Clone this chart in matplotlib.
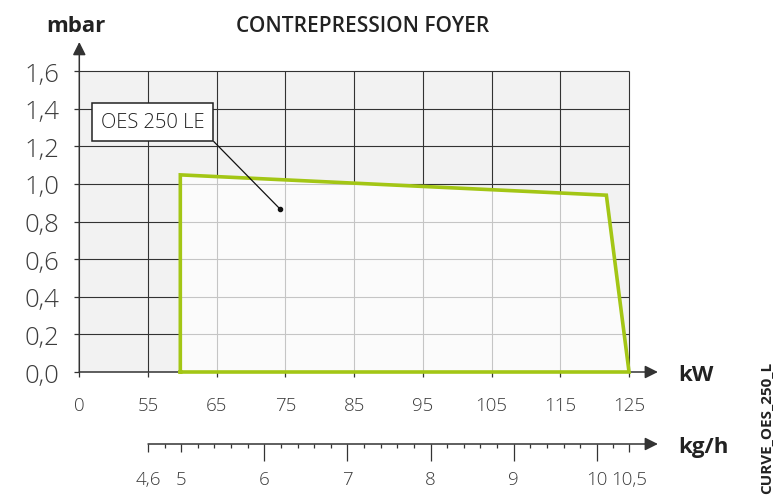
import matplotlib
matplotlib.use('Agg')
import matplotlib.pyplot as plt
import numpy as np
from matplotlib.ticker import FixedLocator, FuncFormatter
from matplotlib.patches import Polygon, Rectangle

# ---------------- data ----------------
title = 'CONTREPRESSION FOYER'
y_label = 'mbar'
x_label = 'kW'
x2_label = 'kg/h'
series_name = 'OES 250 LE'
side_code = 'CURVE_OES_250_L'

kw_ticks = [0, 55, 65, 75, 85, 95, 105, 115, 125]
y_ticks = [0.0, 0.2, 0.4, 0.6, 0.8, 1.0, 1.2, 1.4, 1.6]
curve_kw = [59.7, 59.7, 121.7, 125.4, 59.7]
curve_mbar = [0.0, 1.048, 0.94, 0.0, 0.0]
label_point_kw = 74.2
label_point_mbar = 0.867
kgh_major = [4.6, 5, 6, 7, 8, 9, 10, 10.5]
kgh_labels = ['4,6', '5', '6', '7', '8', '9', '10', '10,5']
kgh_long = [6, 7, 8, 9, 10]

GREEN = '#a3c615'
DARK = '#333333'
TXT = '#3c3c3c'
FONT = ['Open Sans', 'DejaVu Sans']
NUMW = 'light'

# broken axes mappings (display positions)
def kw_pos(v):
    return np.interp(v, [0, 55, 125], [45, 55, 125])

def kgh_pos(v):
    return np.interp(v, [4.6, 10, 10.5], [55, 120.3, 125.0])

plt.rcParams['font.family'] = FONT
W, H = 776, 502
fig = plt.figure(figsize=(W / 100, H / 100), dpi=100)

x_left_px, x_right_px = 79.3, 657.9
y0_px, ytop_px = 373, 43
XMIN, XMAX = 45, 129.2
YMAX = (y0_px - ytop_px) / 188.1

ax = fig.add_axes([x_left_px / W, (H - y0_px) / H,
                   (x_right_px - x_left_px) / W, (y0_px - ytop_px) / H])
ax.set_xlim(XMIN, XMAX)
ax.set_ylim(0, YMAX)
for s in ax.spines.values():
    s.set_visible(False)
ax.patch.set_alpha(0)

gx0, gx1 = kw_pos(kw_ticks[0]), kw_pos(kw_ticks[-1])
gy0, gy1 = y_ticks[0], y_ticks[-1]
ax.add_patch(Rectangle((gx0, gy0), gx1 - gx0, gy1 - gy0, facecolor='#f2f2f2',
                       edgecolor='none', zorder=0))
ax.vlines(kw_pos(kw_ticks[1:]), gy0, gy1, color=DARK, lw=0.8, zorder=1)
ax.hlines(y_ticks[1:], gx0, gx1, color=DARK, lw=0.8, zorder=1)

pts = np.column_stack([kw_pos(curve_kw), curve_mbar])
ax.add_patch(Polygon(pts, closed=True, facecolor='white', alpha=0.72,
                     edgecolor='none', zorder=2))

# axes arrows
arrow_kw = dict(arrowstyle='-|>,head_length=0.6,head_width=0.3', mutation_scale=13,
                color=DARK, lw=1.1, shrinkA=0, shrinkB=0)
ax.annotate('', xy=(XMAX, 0), xytext=(XMIN, 0), xycoords='data',
            arrowprops=dict(arrow_kw, facecolor='#111111'), zorder=3,
            annotation_clip=False)
ax.annotate('', xy=(XMIN, YMAX), xytext=(XMIN, 0), xycoords='data',
            arrowprops=dict(arrow_kw, facecolor='#111111'), zorder=3,
            annotation_clip=False)

ax.plot(kw_pos(curve_kw), curve_mbar, color=GREEN, lw=2.6, zorder=5,
        solid_joinstyle='miter', clip_on=False)

# ticks
ax.xaxis.set_major_locator(FixedLocator(kw_pos(kw_ticks)))
ax.set_xticklabels([str(v) for v in kw_ticks])
ax.yaxis.set_major_locator(FixedLocator(y_ticks))
ax.yaxis.set_major_formatter(FuncFormatter(lambda v, p: f'{v:.1f}'.replace('.', ',')))
ax.tick_params(axis='x', direction='out', length=3.6, width=0.9, color=DARK,
               pad=13.5, labelsize=13.5, labelcolor=TXT)
ax.tick_params(axis='y', direction='out', length=3.6, width=0.9, color=DARK,
               pad=11, labelsize=18.5, labelcolor=TXT)
for lab in ax.get_xticklabels() + ax.get_yticklabels():
    lab.set_fontweight(NUMW)

# label box with leader line
ax.plot([label_point_kw], [label_point_mbar], 'o', color='#111111', ms=3, zorder=6)
ax.annotate(series_name, xy=(label_point_kw, label_point_mbar), xytext=(48.1, 1.33),
            xycoords='data', ha='left', va='center', fontsize=14.5, color='#222222',
            fontweight=NUMW,
            bbox=dict(boxstyle='square,pad=0.45', facecolor='white', edgecolor='#222222', lw=1.1),
            arrowprops=dict(arrowstyle='-', color='#111111', lw=0.9, relpos=(1, 0),
                            shrinkA=0, shrinkB=0), zorder=7)

# second axis (kg/h)
y2_px = 445
ax2 = fig.add_axes([x_left_px / W, (H - y2_px) / H, (x_right_px - x_left_px) / W, 0.0001])
ax2.set_xlim(XMIN, XMAX)
ax2.set_ylim(0, 1)
for s in ax2.spines.values():
    s.set_visible(False)
ax2.patch.set_alpha(0)
ax2.set_yticks([])
ax2.annotate('', xy=(XMAX, 0), xytext=(kgh_pos(kgh_major[0]), 0),
             xycoords=ax2.get_xaxis_transform(),
             arrowprops=dict(arrow_kw, facecolor='#111111'), annotation_clip=False)
ax2.xaxis.set_major_locator(FixedLocator(kgh_pos(kgh_major)))
ax2.set_xticklabels(kgh_labels)
minor_vals = [v for v in np.round(np.arange(4.8, 10.0, 0.2), 2) if abs(v - round(v)) > 1e-6]
minor_vals.append(10.25)
ax2.xaxis.set_minor_locator(FixedLocator(kgh_pos(minor_vals)))
ax2.tick_params(axis='x', which='major', direction='out', length=6, width=0.9, color=DARK,
                pad=12.5, labelsize=13.5, labelcolor=TXT)
ax2.tick_params(axis='x', which='minor', direction='out', length=3, width=0.9, color=DARK)
for lab in ax2.get_xticklabels():
    lab.set_fontweight(NUMW)
for t, v in zip(ax2.xaxis.get_major_ticks(len(kgh_major)), kgh_major):
    if v in kgh_long:
        t.tick1line.set_markersize(12)

# texts
fig.text(75.5 / W, 1 - 32.5 / H, y_label, ha='center', va='baseline', fontsize=16,
         fontweight='bold', color='#222222')
fig.text(363 / W, 1 - 32.5 / H, title, ha='center', va='baseline', fontsize=15,
         fontweight='semibold', color='#222222')
fig.text(678 / W, 1 - 381 / H, x_label, ha='left', va='baseline', fontsize=16,
         fontweight='bold', color='#222222')
fig.text(678 / W, 1 - 453 / H, x2_label, ha='left', va='baseline', fontsize=16,
         fontweight='bold', color='#222222')
fig.text(766 / W, 1 - 362 / H, side_code, ha='center', va='top', rotation=90,
         fontsize=11, fontweight='bold', color='#222222')

fig.savefig('out.png', dpi=100)
